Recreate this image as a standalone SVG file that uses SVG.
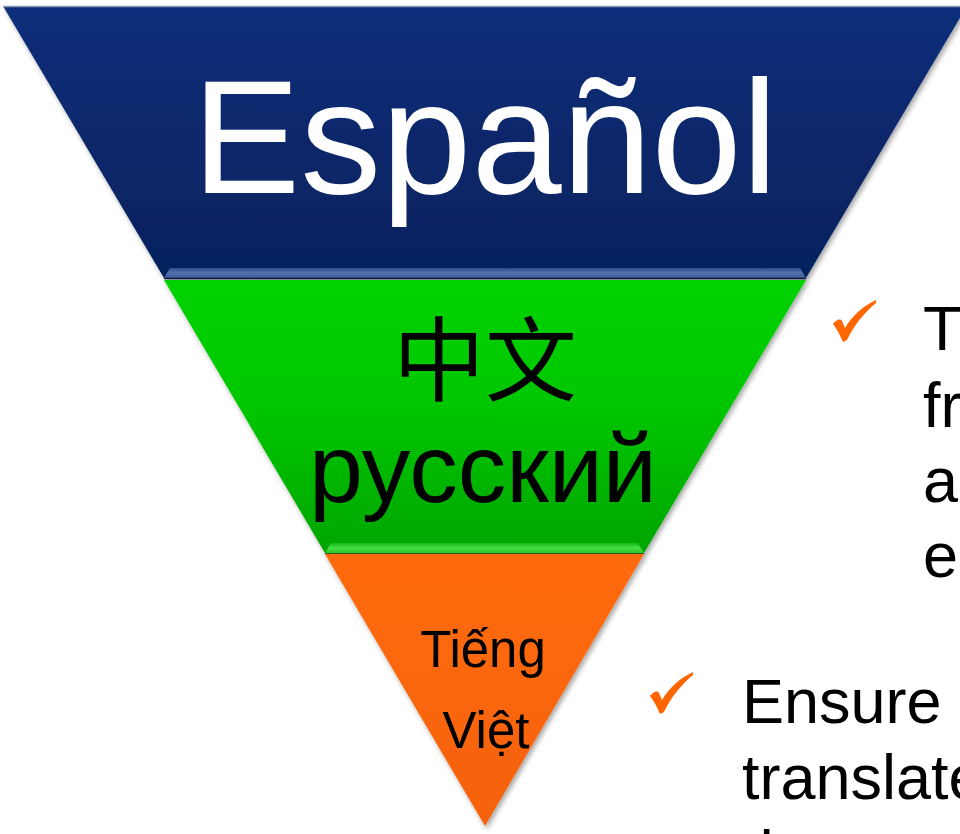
<svg xmlns="http://www.w3.org/2000/svg" width="960" height="834" viewBox="0 0 960 834">
  <defs>
    <linearGradient id="gBlue" x1="0" y1="0" x2="0" y2="1">
      <stop offset="0" stop-color="#0a2e7a"/>
      <stop offset="1" stop-color="#06215c"/>
    </linearGradient>
    <linearGradient id="gBlueBevel" x1="0" y1="0" x2="0" y2="1">
      <stop offset="0" stop-color="#2c4c8e"/>
      <stop offset="0.5" stop-color="#5573ae"/>
      <stop offset="1" stop-color="#3b5994"/>
    </linearGradient>
    <linearGradient id="gGreen" x1="0" y1="0" x2="0" y2="1">
      <stop offset="0" stop-color="#06d206"/>
      <stop offset="0.45" stop-color="#03c703"/>
      <stop offset="1" stop-color="#05a505"/>
    </linearGradient>
    <linearGradient id="gGreenBevel" x1="0" y1="0" x2="0" y2="1">
      <stop offset="0" stop-color="#15b815"/>
      <stop offset="0.5" stop-color="#45e045"/>
      <stop offset="1" stop-color="#2cc42c"/>
    </linearGradient>
    <linearGradient id="gOrange" x1="0" y1="0" x2="0" y2="1">
      <stop offset="0" stop-color="#ff6a0a"/>
      <stop offset="1" stop-color="#f5620a"/>
    </linearGradient>
    <filter id="shadow" x="-10%" y="-10%" width="120%" height="120%">
      <feDropShadow dx="2" dy="3" stdDeviation="2.5" flood-color="#000" flood-opacity="0.35"/>
    </filter>
    <path id="check" d="M0,24 C3,20 7,18 9,21 L12,28 C19,16 30,6 43,0 L43,3 C32,12 21,25 14,40 L10,42 C7,35 4,29 0,24 Z"/>
    <style>
      .lbl { font-family: "Liberation Sans", Arial, "Noto Sans CJK SC", sans-serif; }
      .band-text { fill: #000; }
      .body { font-family: "Liberation Sans", Arial, sans-serif; font-size: 63px; fill: #000; }
      .chk { fill: #ff6600; }
    </style>
  </defs>

  <rect width="960" height="834" fill="#ffffff"/>

  <g filter="url(#shadow)">
    <g id="band-spanish">
      <polygon points="3,6 967,6 806,278 164,278" fill="url(#gBlue)"/>
      <line x1="3" y1="6.5" x2="967" y2="6.5" stroke="#8a9ab8" stroke-width="1.5"/>
      <polygon points="170,268 800,268 806,278 164,278" fill="url(#gBlueBevel)"/>
      <line x1="164" y1="278.5" x2="806" y2="278.5" stroke="#0a1a3a" stroke-width="1.5"/>
      <text class="lbl" x="485" y="193" font-size="162" fill="#ffffff" text-anchor="middle">Español</text>
    </g>
    <g id="band-chinese-russian">
      <polygon points="164,280 806,280 644,553 325,553" fill="url(#gGreen)"/>
      <polygon points="331,543 638,543 644,553 325,553" fill="url(#gGreenBevel)"/>
      <line x1="325" y1="553.5" x2="644" y2="553.5" stroke="#2a5a10" stroke-width="1.2"/>
      <text class="lbl band-text" x="485" y="394" font-size="92" text-anchor="middle" font-family="'Noto Sans CJK SC', sans-serif">中文</text>
      <text class="lbl band-text" x="483" y="502" font-size="97" text-anchor="middle">русский</text>
    </g>
    <g id="band-vietnamese">
      <polygon points="325,554 644,554 485,826" fill="url(#gOrange)"/>
      <text class="lbl band-text" x="483" y="667" font-size="51" text-anchor="middle">Tiếng</text>
      <text class="lbl band-text" x="486" y="748" font-size="51" text-anchor="middle">Việt</text>
    </g>
  </g>

  <g id="bullet-1">
    <use href="#check" class="chk" x="833" y="300"/>
    <text class="body" x="923" y="350">T</text>
    <text class="body" x="923" y="427">fr</text>
    <text class="body" x="923" y="502">a</text>
    <text class="body" x="923" y="577">e</text>
  </g>
  <g id="bullet-2">
    <use href="#check" class="chk" x="650" y="672"/>
    <text class="body" x="742" y="723">Ensure</text>
    <text class="body" x="742" y="799">translate</text>
    <text class="body" x="742" y="875">the</text>
  </g>
</svg>
